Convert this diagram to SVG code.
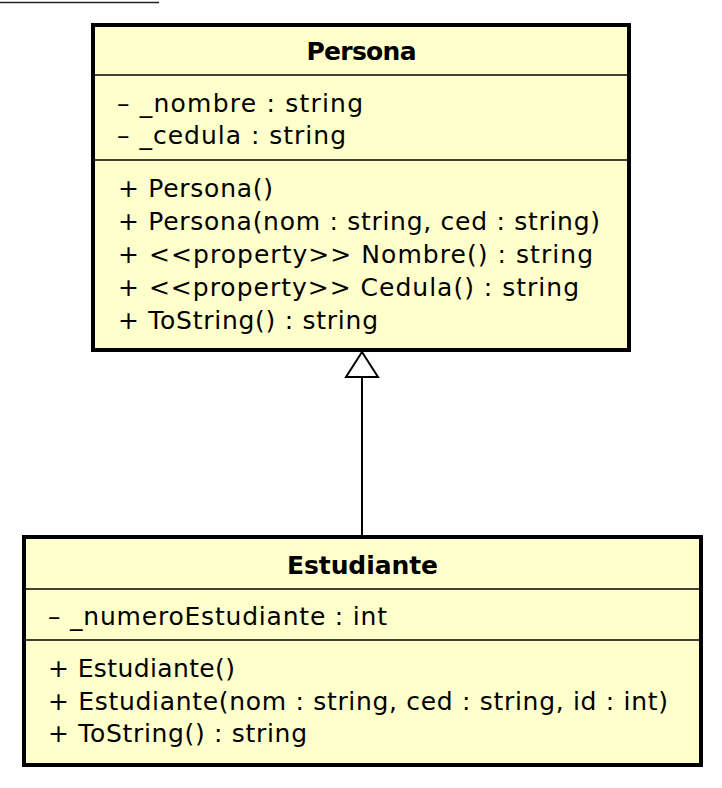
<svg xmlns="http://www.w3.org/2000/svg" width="722" height="788" viewBox="0 0 722 788">
<style>
.box{fill:#FFFFCC;stroke:#000;stroke-width:4}
.div{stroke:#000;stroke-width:1.5}
.t{font-family:"DejaVu Sans","Liberation Sans",sans-serif;font-size:25px;fill:#000}
.b{font-weight:bold;text-anchor:middle}
</style>
<rect width="722" height="788" fill="#fff"/>
<line x1="0" y1="2.5" x2="159" y2="2.5" stroke="#222" stroke-width="1.5"/>
<g id="connectors">
<line x1="362" y1="377" x2="362" y2="535" stroke="#000" stroke-width="2"/>
<polygon points="362,352 346,377 378,377" fill="#fff" stroke="#000" stroke-width="2"/>
</g>
<g id="Persona">
<rect class="box" x="93" y="25" width="536" height="325"/>
<line class="div" x1="93" y1="75" x2="629" y2="75"/>
<line class="div" x1="93" y1="160" x2="629" y2="160"/>
<text class="t b" x="361.5" y="60" textLength="110" lengthAdjust="spacing">Persona</text>
<text class="t" x="117" y="112" textLength="246" lengthAdjust="spacing">– _nombre : string</text>
<text class="t" x="117" y="144" textLength="229" lengthAdjust="spacing">– _cedula : string</text>
<text class="t" x="118" y="197" textLength="155" lengthAdjust="spacing">+ Persona()</text>
<text class="t" x="118" y="230" textLength="482" lengthAdjust="spacing">+ Persona(nom : string, ced : string)</text>
<text class="t" x="118" y="263" textLength="475" lengthAdjust="spacing">+ &lt;&lt;property&gt;&gt; Nombre() : string</text>
<text class="t" x="118" y="296" textLength="461" lengthAdjust="spacing">+ &lt;&lt;property&gt;&gt; Cedula() : string</text>
<text class="t" x="118" y="329" textLength="260" lengthAdjust="spacing">+ ToString() : string</text>
</g>
<g id="Estudiante">
<rect class="box" x="24" y="537" width="677" height="228"/>
<line class="div" x1="24" y1="589" x2="701" y2="589"/>
<line class="div" x1="24" y1="640" x2="701" y2="640"/>
<text class="t b" x="362.5" y="574" textLength="151" lengthAdjust="spacing">Estudiante</text>
<text class="t" x="48" y="625" textLength="339" lengthAdjust="spacing">– _numeroEstudiante : int</text>
<text class="t" x="48" y="677" textLength="187" lengthAdjust="spacing">+ Estudiante()</text>
<text class="t" x="48" y="710" textLength="620" lengthAdjust="spacing">+ Estudiante(nom : string, ced : string, id : int)</text>
<text class="t" x="48" y="742" textLength="259" lengthAdjust="spacing">+ ToString() : string</text>
</g>
</svg>
